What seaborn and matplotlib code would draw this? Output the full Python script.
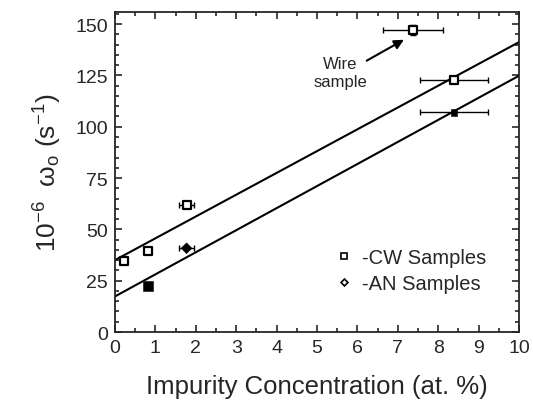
import matplotlib
matplotlib.use('Agg')
import matplotlib.pyplot as plt
from matplotlib.ticker import MultipleLocator
from matplotlib.lines import Line2D
import pandas as pd
import seaborn as sns

# datos
cw_x = [0.22, 0.82, 1.77, 7.37, 8.39]
cw_y = [34.6, 39.6, 62.0, 147.2, 122.9]
cw_xerr = [0.0, 0.0, 0.19, 0.74, 0.85]
cw_yerr = [0.0, 0.0, 0.0, 2.5, 0.0]
cw_fit = [True, True, True, False, True]  # el hilo (wire) no entra en el ajuste

an_x = [0.82, 1.77, 8.39]
an_y = [22.3, 40.8, 107.0]
an_xerr = [0.0, 0.19, 0.85]
an_marker = ['s', 'D', 's']
an_size = [55, 30, 22]

sns.set_style('ticks')
plt.rcParams['font.family'] = ['Liberation Sans', 'DejaVu Sans']

df_cw = pd.DataFrame({'x': cw_x, 'y': cw_y, 'fit': cw_fit})
df_an = pd.DataFrame({'x': an_x, 'y': an_y, 'm': an_marker, 's': an_size})

fig = plt.figure(figsize=(5.33, 4.02), dpi=100)
ax = fig.add_axes([0.2158, 0.1716, 0.758, 0.795])
ax.set_xlim(0, 10)
ax.set_ylim(0, 155.7)

# rectas de ajuste
sns.regplot(data=df_cw[df_cw['fit']], x='x', y='y', ax=ax, scatter=False,
            ci=None, truncate=False, color='black', line_kws={'lw': 1.5})
sns.regplot(data=df_an, x='x', y='y', ax=ax, scatter=False,
            ci=None, truncate=False, color='black', line_kws={'lw': 1.5})

# barras de error
ax.errorbar(cw_x, cw_y, xerr=cw_xerr, yerr=cw_yerr, fmt='none', ecolor='black',
            elinewidth=1, capsize=2.5, capthick=1)
ax.errorbar(an_x, an_y, xerr=an_xerr, fmt='none', ecolor='black',
            elinewidth=1, capsize=2.5, capthick=1)

# puntos
sns.scatterplot(data=df_cw, x='x', y='y', ax=ax, marker='s', s=28,
                facecolor='white', edgecolor='black', linewidth=1.6, zorder=5)
sns.scatterplot(data=df_an, x='x', y='y', ax=ax, style='m', size='s',
                sizes=(min(an_size), max(an_size)),
                markers={'s': 's', 'D': 'D'}, color='black',
                edgecolor='black', legend=False, zorder=5)

ax.text(5.57, 126.5, 'Wire\nsample', ha='center', va='center', fontsize=12,
        linespacing=1.25)
ax.annotate('', xy=(7.15, 142.4), xytext=(6.23, 132.2),
            arrowprops=dict(arrowstyle='-|>', color='black', lw=1.5,
                            mutation_scale=14, shrinkA=0, shrinkB=0))

handles = [Line2D([], [], marker='s', ls='none', mfc='white', mec='black',
                  ms=5, mew=1.2, label='-CW Samples'),
           Line2D([], [], marker='D', ls='none', mfc='white', mec='black',
                  ms=3.5, mew=1.2, label='-AN Samples')]
ax.legend(handles=handles, loc='lower right', bbox_to_anchor=(0.963, 0.065),
          frameon=False, fontsize=14.5, handlelength=0.6, handletextpad=0.6,
          labelspacing=0.35)

ax.xaxis.set_major_locator(MultipleLocator(1))
ax.xaxis.set_minor_locator(MultipleLocator(0.5))
ax.yaxis.set_major_locator(MultipleLocator(25))
ax.yaxis.set_minor_locator(MultipleLocator(5))
ax.tick_params(which='both', direction='in', top=True, right=True,
               labelsize=14, width=1.2)
ax.tick_params(which='major', length=5, pad=5)
ax.tick_params(which='minor', length=3)
for s in ax.spines.values():
    s.set_linewidth(1.3)

ax.set_xlabel('Impurity Concentration (at. %)', fontsize=18.5, labelpad=13)
ax.set_ylabel(r'$\mathregular{10^{-6}}$  $\mathregular{\omega_o}$ $\mathregular{(s^{-1})}$',
              fontsize=19, labelpad=8)

plt.savefig('out.png', dpi=100)
